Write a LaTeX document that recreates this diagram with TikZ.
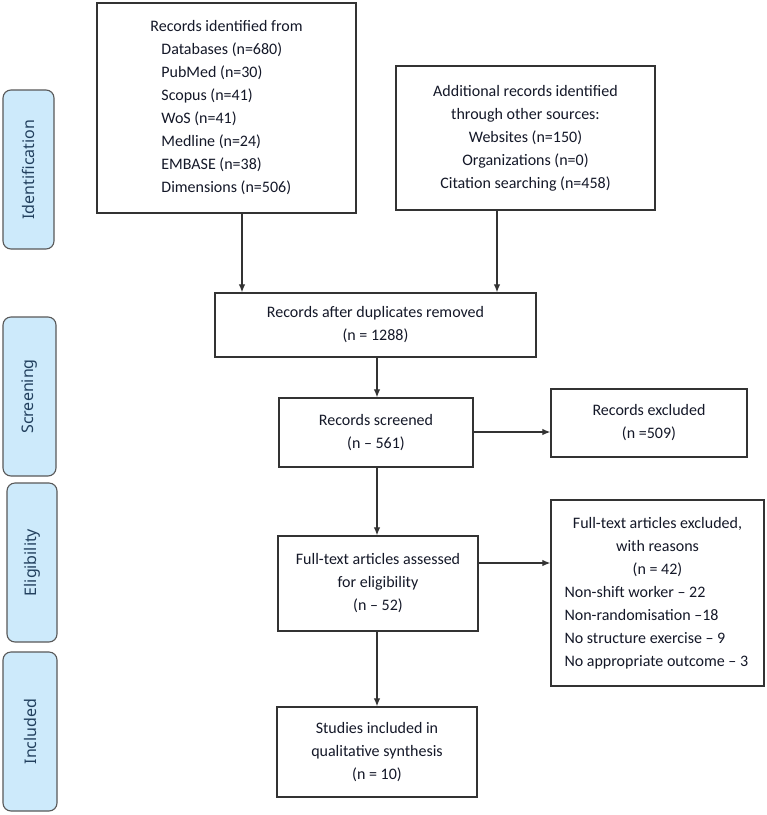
\documentclass[tikz,border=0pt]{standalone}
\usepackage{fontspec}
\setmainfont{Carlito}
\newfontfamily\sidefont{Noto Sans}
\usetikzlibrary{arrows.meta}
\definecolor{textc}{HTML}{141828}
\definecolor{sidefill}{HTML}{CDEAFB}
\definecolor{sidetext}{HTML}{22405E}
\definecolor{linec}{HTML}{333333}
\newcommand{\lft}[1]{\makebox[186pt][l]{#1}}
\begin{document}
\begin{tikzpicture}[x=1pt,y=-1pt,
  box/.style={draw=linec, line width=1.3pt, fill=white, inner sep=0pt, align=center,
    font=\fontsize{16}{23}\selectfont, text=textc},
  sidebox/.style={draw=black!65, line width=1.1pt, fill=sidefill, rounded corners=8pt,
    rotate=90, inner sep=0pt, font=\sidefont\fontsize{16}{19}\selectfont, text=sidetext},
  arr/.style={draw=linec, line width=1.2pt, -{Latex[length=8pt,width=6.5pt]}}]
\fill[white] (0,0) rectangle (767,815);
\useasboundingbox (0,0) rectangle (767,815);

% side labels
\node[sidebox, minimum width=159pt, minimum height=51pt] (s1) at (28.5,169.5) {Identification};
\node[sidebox, minimum width=159pt, minimum height=53pt] (s2) at (29.5,396.5) {Screening};
\node[sidebox, minimum width=159pt, minimum height=50pt] (s3) at (32,562.5) {Eligibility};
\node[sidebox, minimum width=159pt, minimum height=54pt] (s4) at (30,731.5) {Included};

% boxes
\node[box, minimum width=259pt, minimum height=210pt, align=left] (b1) at (226.5,108)
  {Records identified from\\
   \hspace*{11pt}Databases (n=680)\\
   \hspace*{11pt}PubMed (n=30)\\
   \hspace*{11pt}Scopus (n=41)\\
   \hspace*{11pt}WoS (n=41)\\
   \hspace*{11pt}Medline (n=24)\\
   \hspace*{11pt}EMBASE (n=38)\\
   \hspace*{11pt}Dimensions (n=506)};
\node[box, minimum width=259pt, minimum height=144pt] (b2) at (525.5,138)
  {Additional records identified\\ through other sources:\\ Websites (n=150)\\ Organizations (n=0)\\ Citation searching (n=458)};
\node[box, minimum width=321pt, minimum height=64pt] (b3) at (375.5,325)
  {Records after duplicates removed\\ (n = 1288)};
\node[box, minimum width=194pt, minimum height=69pt] (b4) at (376,432.5)
  {Records screened\\ (n – 561)};
\node[box, minimum width=196pt, minimum height=68pt] (b5) at (649,423)
  {Records excluded\\ (n =509)};
\node[box, minimum width=200pt, minimum height=95pt] (b6) at (378,583.5)
  {Full-text articles assessed\\ for eligibility\\ (n – 52)};
\node[box, minimum width=213pt, minimum height=186pt] (b7) at (657.5,593)
  {Full-text articles excluded,\\ with reasons\\ (n = 42)\\
   \lft{Non-shift worker – 22}\\ \lft{Non-randomisation –18}\\
   \lft{No structure exercise – 9}\\ \lft{No appropriate outcome – 3}};
\node[box, minimum width=200pt, minimum height=90pt] (b8) at (377,752)
  {Studies included in\\ qualitative synthesis\\ (n = 10)};

% guide coordinates
\coordinate (cA) at (242,0);
\coordinate (cB) at (497,0);
\coordinate (cC) at (377,0);
\coordinate (rA) at (0,432);
\coordinate (rB) at (0,563);

% connectors
\draw[arr] (b1.south -| cA) -- (b3.north -| cA);
\draw[arr] (b2.south -| cB) -- (b3.north -| cB);
\draw[arr] (b3.south -| cC) -- (b4.north -| cC);
\draw[arr] (b4.east |- rA) -- (b5.west |- rA);
\draw[arr] (b4.south -| cC) -- (b6.north -| cC);
\draw[arr] (b6.east |- rB) -- (b7.west |- rB);
\draw[arr] (b6.south -| cC) -- (b8.north -| cC);
\end{tikzpicture}
\end{document}
